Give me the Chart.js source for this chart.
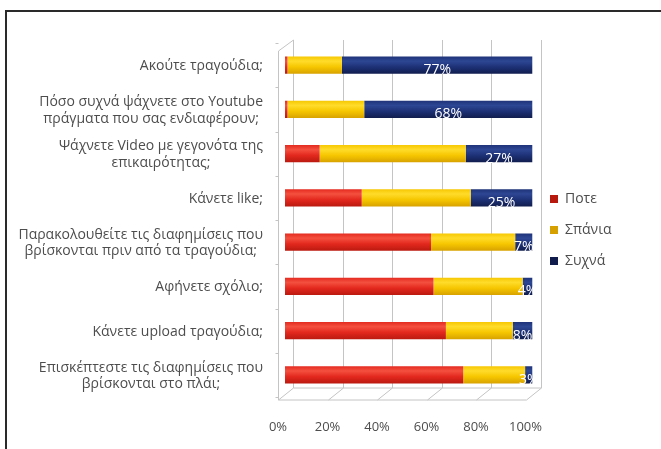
<!DOCTYPE html>
<html>
<head>
<meta charset="utf-8">
<script src="https://cdn.jsdelivr.net/npm/chart.js@4/dist/chart.umd.min.js"></script>
<style>
  html, body { margin: 0; padding: 0; background: #fff; }
  #wrap { position: relative; width: 661px; height: 449px; overflow: hidden; }
  #frame { position: absolute; left: 5px; top: 10px; width: 800px; height: 600px;
           border-top: 2px solid #2a2a2a; border-left: 2px solid #2a2a2a; box-sizing: border-box; }
  canvas { position: absolute; left: 0; top: 0; }
</style>
</head>
<body>
<div id="wrap">
  <div id="frame"></div>
  <canvas id="c" width="661" height="449"></canvas>
</div>
<script>
const categories = [
  "Ακούτε τραγούδια;",
  ["Πόσο συχνά ψάχνετε στο Youtube", "πράγματα που σας ενδιαφέρουν;"],
  ["Ψάχνετε Video με γεγονότα της", "επικαιρότητας;"],
  "Κάνετε like;",
  ["Παρακολουθείτε τις διαφημίσεις που", "βρίσκονται πριν από τα τραγούδια;"],
  "Αφήνετε σχόλιο;",
  "Κάνετε upload τραγούδια;",
  ["Επισκέπτεστε τις διαφημίσεις που", "βρίσκονται στο πλάι;"]
];
const seriesNames = ["Ποτε", "Σπάνια", "Συχνά"];
const never  = [1, 1, 14, 31, 59, 60, 65, 72];
const rarely = [22, 31, 59, 44, 34, 36, 27, 25];
const often  = [77, 68, 27, 25, 7, 4, 8, 3];
const xTicks = [0, 20, 40, 60, 80, 100];

const FONT = "'Open Sans', 'DejaVu Sans', sans-serif";
const TEXT = "#4d4d4d";

const palettes = [
  { base: "#e3281e", light: "#f4503f", dark: "#b8190f" },
  { base: "#f6c600", light: "#ffdc2a", dark: "#d6a000" },
  { base: "#1d3176", light: "#2e4794", dark: "#101c4c" }
];

function grad(i) {
  return function (ctx) {
    const p = palettes[i];
    if (ctx.type !== 'data') return p.base;
    const chart = ctx.chart;
    const ys = chart.scales.y;
    if (!chart.chartArea || !ys) return p.base;
    const y = ys.getPixelForValue(ctx.dataIndex);
    const h = 9;
    const g = chart.ctx.createLinearGradient(0, y - h, 0, y + h);
    g.addColorStop(0, p.base);
    g.addColorStop(0.28, p.light);
    g.addColorStop(0.6, p.base);
    g.addColorStop(1, p.dark);
    return g;
  };
}

const frame3d = {
  id: 'frame3d',
  beforeDatasetsDraw(chart) {
    const { ctx, chartArea: a, scales: { x: xs } } = chart;
    const backTop = a.top - 3, backBottom = a.bottom - 9, frontBottom = a.bottom + 3;
    const dxB = 8, dxF = -7;
    ctx.save();
    ctx.strokeStyle = "#c4c4c4";
    ctx.lineWidth = 1;
    ctx.beginPath();
    xTicks.forEach(v => {
      const px = Math.round(xs.getPixelForValue(v)) + 0.5;
      ctx.moveTo(px + dxB, backTop);
      ctx.lineTo(px + dxB, backBottom);
      ctx.moveTo(px + dxB, backBottom);
      ctx.lineTo(px + dxF, frontBottom);
    });
    const x0 = Math.round(xs.getPixelForValue(0)) + 0.5;
    const x1 = Math.round(xs.getPixelForValue(100)) + 0.5;
    ctx.moveTo(x0 + dxB, backBottom); ctx.lineTo(x1 + dxB, backBottom);
    ctx.moveTo(x0 + dxF, frontBottom); ctx.lineTo(x1 + dxF, frontBottom);
    ctx.moveTo(x0 + dxF, a.top + 8); ctx.lineTo(x0 + dxF, frontBottom);
    ctx.moveTo(x0 + dxF, a.top + 8); ctx.lineTo(x0 + dxB, backTop);
    const ys = chart.scales.y;
    for (let i = 0; i <= categories.length; i++) {
      const yb = Math.round(ys.getPixelForValue(i - 0.5)) + 0.5;
      ctx.moveTo(x0 + dxF - 3, yb); ctx.lineTo(x0 + dxF, yb);
    }
    ctx.stroke();
    ctx.restore();
  }
};

const yLabels = {
  id: 'yLabels',
  afterDraw(chart) {
    const { ctx, chartArea: a, scales: { y: ys } } = chart;
    ctx.save();
    ctx.font = "14px " + FONT;
    ctx.fillStyle = TEXT;
    ctx.textAlign = 'center';
    ctx.textBaseline = 'middle';
    const right = a.left - 22;
    const lh = 16.5;
    categories.forEach((lab, i) => {
      const lines = Array.isArray(lab) ? lab : [lab];
      const w = Math.max(...lines.map(l => ctx.measureText(l).width));
      const cx = right - w / 2;
      const cy = ys.getPixelForValue(i) + 1;
      lines.forEach((l, k) => {
        ctx.fillText(l, cx, cy + (k - (lines.length - 1) / 2) * lh);
      });
    });
    ctx.restore();
  }
};

const valueLabels = {
  id: 'valueLabels',
  afterDatasetsDraw(chart) {
    const { ctx } = chart;
    const meta = chart.getDatasetMeta(2);
    ctx.save();
    ctx.font = "14px " + FONT;
    ctx.fillStyle = "#ffffff";
    ctx.textAlign = 'center';
    ctx.textBaseline = 'middle';
    meta.data.forEach((el, i) => {
      const cx = (el.x + el.base) / 2;
      ctx.fillText(often[i] + '%', cx, el.y + 5);
    });
    ctx.restore();
  }
};

const legendPlace = {
  id: 'legendPlace',
  beforeDraw(chart) {
    const lg = chart.legend;
    if (!lg || lg._placed) return;
    const w = lg.right - lg.left;
    lg.left = 533; lg.right = 533 + w;
    lg.top -= 9; lg.bottom -= 9;
    lg._placed = true;
  }
};

const datasets = [never, rarely, often].map((d, i) => ({
  label: seriesNames[i],
  data: d,
  backgroundColor: grad(i),
  borderWidth: 0,
  categoryPercentage: 1,
  barPercentage: 0.385
}));

new Chart(document.getElementById('c'), {
  type: 'bar',
  data: { labels: categories, datasets },
  options: {
    indexAxis: 'y',
    responsive: false,
    animation: false,
    layout: { padding: { left: 0, top: 43, right: 40, bottom: 14 } },
    scales: {
      x: {
        stacked: true, min: 0, max: 100,
        grid: { display: false }, border: { display: false },
        ticks: { stepSize: 20, padding: 14, labelOffset: -7, color: TEXT,
                 font: { family: FONT, size: 13 },
                 callback: v => v + '%' },
        afterFit(s) { s.height = 38; }
      },
      y: {
        stacked: true,
        grid: { display: false }, border: { display: false },
        ticks: { display: false },
        afterFit(s) { s.width = 285; }
      }
    },
    plugins: {
      legend: {
        position: 'right',
        labels: { boxWidth: 8, boxHeight: 8, padding: 17, color: TEXT,
                  font: { family: FONT, size: 14 } }
      },
      tooltip: { enabled: false }
    }
  },
  plugins: [frame3d, yLabels, valueLabels, legendPlace]
});
</script>
</body>
</html>
